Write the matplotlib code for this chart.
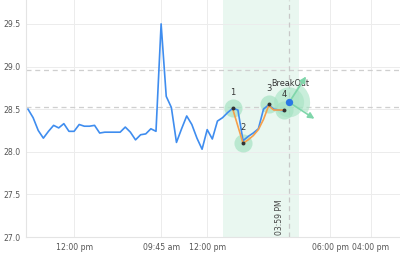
import matplotlib
matplotlib.use("Agg")
import matplotlib.pyplot as plt
import matplotlib.transforms as mtransforms
from matplotlib.patches import Wedge, Circle, FancyArrowPatch

# Price series (one value per bar, index positions on x)
price = [28.50, 28.40, 28.25, 28.16, 28.24, 28.31, 28.28, 28.33, 28.24, 28.24,
         28.32, 28.30, 28.30, 28.31, 28.22, 28.23, 28.23, 28.23, 28.23, 28.29,
         28.23, 28.14, 28.20, 28.21, 28.27, 28.24, 29.50, 28.65, 28.52, 28.11,
         28.27, 28.42, 28.32, 28.16, 28.03, 28.26, 28.15, 28.36, 28.40, 28.46,
         28.51, 28.49, 28.13, 28.18, 28.22, 28.27, 28.50, 28.55, 28.50, 28.49,
         28.48]

# Pattern outline (orange)
pattern_x = [40, 42, 43, 44, 45, 46, 47, 48, 49, 50]
pattern_y = [28.50, 28.10, 28.14, 28.19, 28.26, 28.38, 28.54, 28.49, 28.49, 28.49]

# Pattern pivot points
pivot_x = [40, 42, 47, 50]
pivot_y = [28.51, 28.10, 28.56, 28.49]
pivot_labels = ["1", "2", "3", "4"]

# Breakout
breakout_x = 51
breakout_y = 28.58
arrow_targets = [(54.6, 28.91), (56.4, 28.37)]

# Levels
levels = [28.96, 28.52]

# X axis
tick_pos = [9, 26, 35, 59, 67]
tick_labels = ["12:00 pm", "09:45 am", "12:00 pm", "06:00 pm", "04:00 pm"]
zone = (38.1, 52.9)
event_x = 51
event_label = "03:59 PM"

fig = plt.figure(figsize=(4.0, 2.64), dpi=100)
ax = fig.add_axes([0.065, 0.102, 0.935, 0.898])

ax.set_xlim(-0.39, 72.66)
ax.set_ylim(27.0, 29.78)

# grid
ax.set_yticks([27.0, 27.5, 28.0, 28.5, 29.0, 29.5])
ax.set_yticklabels(["27.0", "27.5", "28.0", "28.5", "29.0", "29.5"])
ax.set_xticks(tick_pos)
ax.set_xticklabels(tick_labels)
ax.grid(True, color="#ececec", linewidth=0.7)
ax.set_axisbelow(True)
ax.tick_params(length=0, labelsize=5.6, colors="#555555")
ax.tick_params(axis="x", pad=4)
ax.tick_params(axis="y", pad=4)
for s in ["top", "right"]:
    ax.spines[s].set_visible(False)
for s in ["left", "bottom"]:
    ax.spines[s].set_color("#e4e4e4")
    ax.spines[s].set_linewidth(0.8)

# shaded zone
ax.axvspan(zone[0], zone[1], color="#e9f7f0", zorder=0, lw=0)

# level lines
for lv in levels:
    ax.axhline(lv, color="#cfcfcf", linestyle=(0, (4, 3)), linewidth=0.9, zorder=1)
ax.axvline(event_x, color="#c8c8c8", linestyle=(0, (4, 3)), linewidth=0.9, zorder=1)
ax.text(event_x - 0.9, 27.02, event_label, rotation=90, ha="right", va="bottom",
        fontsize=5.5, color="#444444")

# breakout wedge (sized in inches around the breakout point)
off = mtransforms.ScaledTranslation(breakout_x, breakout_y, ax.transData)
trans = fig.dpi_scale_trans + off
ax.add_patch(Wedge((0, 0), 0.21, -30, 62, transform=trans, color="#a6e3c3",
                   alpha=0.6, lw=0, zorder=2))
ax.add_patch(Circle((0, 0), 0.15, transform=trans, color="#a6e3c3",
                    alpha=0.6, lw=0, zorder=2))
for tx, ty in arrow_targets:
    ax.add_patch(FancyArrowPatch((breakout_x, breakout_y), (tx, ty),
                                 arrowstyle="-|>", mutation_scale=9,
                                 color="#7fd6aa", lw=1.2, zorder=4))

# price line
ax.plot(range(len(price)), price, color="#3f8def", linewidth=1.2, zorder=3)

# pattern line
ax.plot(pattern_x, pattern_y, color="#f5a04b", linewidth=1.2, zorder=3)

# pivots
ax.scatter(pivot_x, pivot_y, s=170, color="#a6e3c3", alpha=0.7, zorder=2, lw=0)
ax.scatter(pivot_x, pivot_y, s=8, color="#333333", zorder=5, lw=0)
for px, py, lb in zip(pivot_x, pivot_y, pivot_labels):
    ax.annotate(lb, (px, py), xytext=(0, 8), textcoords="offset points",
                ha="center", va="bottom", fontsize=6, color="#333333")

ax.scatter([breakout_x], [breakout_y], s=28, color="#2a78e4", zorder=6, lw=0)
ax.annotate("BreakOut", (breakout_x, breakout_y), xytext=(1, 10),
            textcoords="offset points", ha="center", va="bottom",
            fontsize=5.8, color="#333333")

fig.savefig("out.png", dpi=100)
